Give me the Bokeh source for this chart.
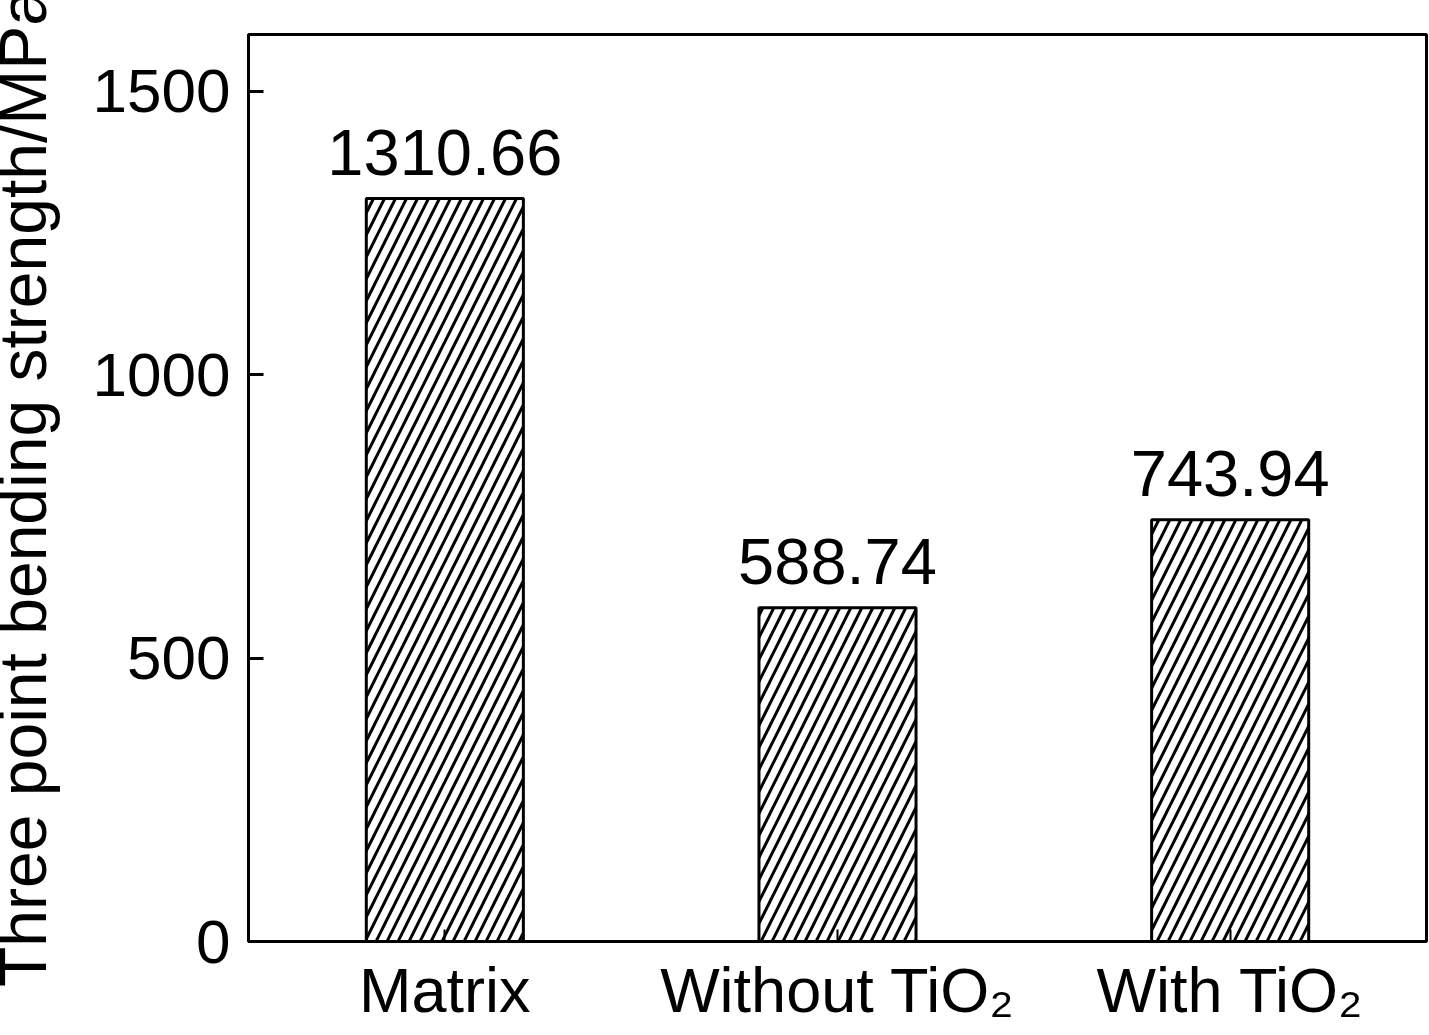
from bokeh.plotting import figure
from bokeh.models import ColumnDataSource, FactorRange, Range1d, FixedTicker, LabelSet
from bokeh.core.properties import value
from bokeh.embed import file_html
from bokeh.resources import INLINE

categories = ["Matrix", "Without TiO\u2082", "With TiO\u2082"]
strength = [1310.66, 588.74, 743.94]
value_labels = ["1310.66", "588.74", "743.94"]
y_ticks = [0, 500, 1000, 1500]

FONT = "Liberation Sans"
SHIFT = 18  # pull the figure left so the y-axis title sits at the page edge

src = ColumnDataSource(dict(cat=categories, val=strength, lab=value_labels))

p = figure(width=1429 + SHIFT, height=1035, output_backend="svg", toolbar_location=None,
           x_range=FactorRange(factors=categories), y_range=Range1d(0, 1600),
           min_border_left=248 + SHIFT, min_border_top=34, min_border_right=3,
           min_border_bottom=94)
p.styles = {"margin-left": f"-{SHIFT}px"}

p.vbar(x="cat", top="val", width=0.4, source=src, fill_color="white",
       line_color="black", line_width=3, hatch_pattern="/", hatch_scale=22,
       hatch_weight=3, hatch_color="black")

p.add_layout(LabelSet(x="cat", y="val", text="lab", source=src, text_align="center",
                      text_baseline="alphabetic", y_offset=24, text_font=value(FONT),
                      text_font_size="65px", text_color="black"))

p.grid.visible = False
p.outline_line_color = "black"
p.outline_line_width = 3
p.background_fill_color = "white"
p.border_fill_color = "white"

ya = p.yaxis[0]
ya.ticker = FixedTicker(ticks=y_ticks)
ya.minor_tick_line_color = None
ya.major_tick_in = 15
ya.major_tick_out = 0
ya.major_tick_line_width = 3
ya.axis_line_width = 3
ya.major_label_text_font = FONT
ya.major_label_text_font_size = "62px"
ya.major_label_text_color = "black"
ya.major_label_standoff = 18
ya.axis_label = "Three point bending strength/MPa"
ya.axis_label_text_font = FONT
ya.axis_label_text_font_size = "66px"
ya.axis_label_text_font_style = "normal"
ya.axis_label_text_color = "black"
ya.axis_label_standoff = 30

xa = p.xaxis[0]
xa.major_tick_in = 12
xa.major_tick_out = 0
xa.major_tick_line_width = 2
xa.axis_line_width = 3
xa.major_label_text_font = FONT
xa.major_label_text_font_size = "63px"
xa.major_label_text_color = "black"
xa.major_label_standoff = 13

open("out.html", "w").write(file_html(p, INLINE))
